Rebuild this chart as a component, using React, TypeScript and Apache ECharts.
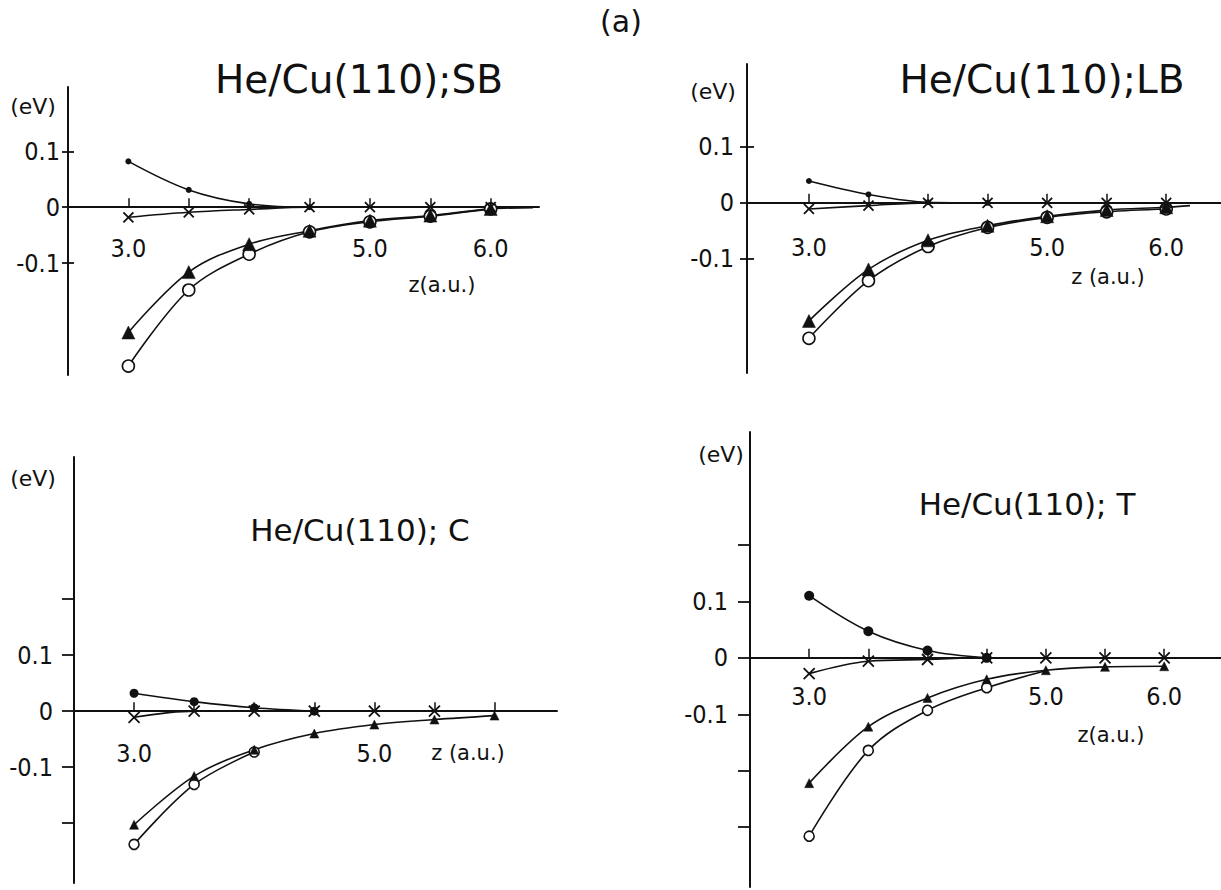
import React, { useEffect, useRef } from "react";
import * as echarts from "echarts";

// Atom-surface distance z (a.u.) at which the energies were computed
const zPoints = [3.0, 3.5, 4.0, 4.5, 5.0, 5.5, 6.0];

// Energy contributions (eV), one list per curve and panel
// He/Cu(110); SB
const sbDot = [0.082, 0.031, 0.006, 0.0];
const sbCross = [-0.018, -0.009, -0.004, 0.0, 0.0, 0.0, 0.0];
const sbTriangle = [-0.224, -0.116, -0.066, -0.042, -0.024, -0.015, -0.003];
const sbCircle = [-0.284, -0.148, -0.084, -0.044, -0.026, -0.016, -0.003];
const sbCurveEnd: [number, number] = [6.35, -0.001];

// He/Cu(110); LB
const lbDot = [0.039, 0.015, 0.001, 0.0];
const lbCross = [-0.011, -0.005, 0.0, 0.0, 0.0, 0.0, 0.0];
const lbTriangle = [-0.211, -0.119, -0.067, -0.041, -0.024, -0.013, -0.008];
const lbCircle = [-0.242, -0.139, -0.078, -0.044, -0.026, -0.016, -0.011];
const lbCurveEnd: [number, number] = [6.2, -0.005];

// He/Cu(110); C
const cDot = [0.032, 0.017, 0.006, 0.0];
const cCross = [-0.011, 0.0, 0.0, 0.0, 0.0, 0.0];
const cTriangle = [-0.203, -0.116, -0.069, -0.04, -0.024, -0.015, -0.008];
const cCircle = [-0.238, -0.131, -0.073];

// He/Cu(110); T
const tDot = [0.11, 0.047, 0.013, 0.0];
const tCross = [-0.028, -0.006, -0.003, 0.0, 0.0, 0.0, 0.0];
const tTriangle = [-0.222, -0.122, -0.071, -0.038, -0.022, -0.016, -0.015];
const tCircle = [-0.316, -0.164, -0.093, -0.053];
const tCircleEnd: [number, number] = [5.0, -0.023];

// Tick positions and labels
const xTickValues = [3.0, 3.5, 4.0, 4.5, 5.0, 5.5, 6.0];
const xLabelValues = [3.0, 5.0, 6.0];
const xLabelValuesC = [3.0, 5.0];
const yLabelValues = [-0.1, 0, 0.1];
const yTickValuesTop = [-0.1, 0, 0.1];
const yTickValuesC = [-0.2, -0.1, 0, 0.1, 0.2];
const yTickValuesT = [-0.3, -0.2, -0.1, 0, 0.1, 0.2];

const titles = ["He/Cu(110);SB", "He/Cu(110);LB", "He/Cu(110); C", "He/Cu(110); T"];
const figureLabel = "(a)";
const yUnit = "(eV)";
const xNames = ["z(a.u.)", "z (a.u.)", "z (a.u.)", "z(a.u.)"];

const INK = "#111";
const LABEL_FONT = "'Liberation Sans Narrow', 'DejaVu Sans Condensed', 'Liberation Sans', sans-serif";
const TITLE_FONT = "'DejaVu Sans', sans-serif";

const crossPath = "path://M0,0L10,10M0,10L10,0";

function pairs(values: number[]): [number, number][] {
  return values.map((v, i) => [zPoints[i], v]);
}

type PanelStyle = {
  dotSize: number;
  circleSize: number;
  triSize: number;
  crossSize: number;
};

function panelSeries(
  idx: number,
  dot: number[],
  cross: number[],
  tri: number[],
  circ: number[],
  st: PanelStyle,
  triEnd?: [number, number],
  circEnd?: [number, number]
) {
  const base = {
    type: "line",
    xAxisIndex: idx,
    yAxisIndex: idx,
    smooth: 0.35,
    lineStyle: { color: INK, width: 1.6 },
    silent: true,
    z: 3,
  };
  const triData: any[] = pairs(tri);
  if (triEnd) triData.push({ value: triEnd, symbol: "none" });
  const circData: any[] = pairs(circ);
  if (circEnd) circData.push({ value: circEnd, symbol: "none" });
  return [
    {
      ...base,
      name: "open circle " + idx,
      data: circData,
      symbol: "circle",
      symbolSize: st.circleSize,
      itemStyle: { color: "#fff", borderColor: INK, borderWidth: 1.6 },
    },
    {
      ...base,
      name: "triangle " + idx,
      data: triData,
      symbol: "triangle",
      symbolSize: st.triSize,
      itemStyle: { color: INK, borderColor: INK, borderWidth: 0.5 },
    },
    {
      ...base,
      name: "cross " + idx,
      data: pairs(cross),
      symbol: crossPath,
      symbolSize: st.crossSize,
      itemStyle: { color: "none", borderColor: INK, borderWidth: 1.8 },
    },
    {
      ...base,
      name: "dot " + idx,
      data: pairs(dot),
      symbol: "circle",
      symbolSize: st.dotSize,
      itemStyle: { color: INK, borderColor: INK, borderWidth: 0 },
    },
  ];
}

function buildOption() {
  const grids = [
    { left: 68, top: 87, width: 471, height: 288 },
    { left: 747, top: 64, width: 474, height: 309 },
    { left: 74, top: 457, width: 483, height: 426 },
    { left: 750, top: 432, width: 471, height: 455 },
  ];
  const xRanges = [
    [2.5, 6.4],
    [2.48, 6.46],
    [2.5, 6.52],
    [2.5, 6.48],
  ];
  const yRanges = [
    [-0.3, 0.215],
    [-0.304, 0.248],
    [-0.307, 0.454],
    [-0.406, 0.4],
  ];
  const yTicks = [yTickValuesTop, yTickValuesTop, yTickValuesC, yTickValuesT];
  const xLabels = [xLabelValues, xLabelValues, xLabelValuesC, xLabelValues];
  const xLabelMargins = [29, 32, 30, 26];
  const yLabelMargins = [8, 13, 21, 22];
  const yTickLen = [6, 7, 12, 12];

  // Label strips: same horizontal extent as each panel, ending at the zero line,
  // so the z tick labels hang just below the zero line.
  const labelGrids = grids.map((g, i) => {
    const [lo, hi] = yRanges[i];
    return { left: g.left, width: g.width, top: g.top, height: (g.height * hi) / (hi - lo) };
  });

  const xAxis: any[] = grids.map((_, i) => ({
    type: "value",
    gridIndex: i,
    min: xRanges[i][0],
    max: xRanges[i][1],
    axisLine: { onZero: true, lineStyle: { color: INK, width: 2 } },
    axisTick: {
      show: true,
      inside: true,
      length: 9,
      customValues: xTickValues,
      lineStyle: { color: INK, width: 1.5 },
    },
    axisLabel: { show: false },
    splitLine: { show: false },
  }));
  labelGrids.forEach((_, i) => {
    xAxis.push({
      type: "value",
      gridIndex: 4 + i,
      position: "bottom",
      min: xRanges[i][0],
      max: xRanges[i][1],
      axisLine: { show: false },
      axisTick: { show: false },
      axisLabel: {
        customValues: xLabels[i],
        margin: xLabelMargins[i],
        color: INK,
        fontSize: 25,
        fontFamily: LABEL_FONT,
        formatter: (v: number) => v.toFixed(1),
      },
      splitLine: { show: false },
    });
  });

  const yAxis: any[] = grids.map((_, i) => ({
    type: "value",
    gridIndex: i,
    position: "left",
    min: yRanges[i][0],
    max: yRanges[i][1],
    axisLine: { show: true, onZero: false, lineStyle: { color: INK, width: 2 } },
    axisTick: {
      show: true,
      inside: false,
      length: yTickLen[i],
      customValues: yTicks[i],
      lineStyle: { color: INK, width: 1.8 },
    },
    axisLabel: {
      customValues: yLabelValues,
      margin: yLabelMargins[i],
      color: INK,
      fontSize: 25,
      fontFamily: LABEL_FONT,
      formatter: (v: number) => (Math.abs(v) < 1e-9 ? "0" : v.toFixed(1)),
    },
    splitLine: { show: false },
  }));
  labelGrids.forEach((_, i) => {
    yAxis.push({
      type: "value",
      gridIndex: 4 + i,
      min: 0,
      max: 1,
      show: false,
    });
  });
  // Upper two panels: ticks cross the value axis
  [0, 1].forEach((i) => {
    yAxis.push({
      type: "value",
      gridIndex: i,
      position: "left",
      min: yRanges[i][0],
      max: yRanges[i][1],
      axisLine: { show: false, onZero: false },
      axisTick: {
        show: true,
        inside: true,
        length: yTickLen[i],
        customValues: yTicks[i],
        lineStyle: { color: INK, width: 1.8 },
      },
      axisLabel: { show: false },
      splitLine: { show: false },
    });
  });

  const small: PanelStyle = { dotSize: 6, circleSize: 12, triSize: 13, crossSize: 10 };
  const large: PanelStyle = { dotSize: 10, circleSize: 10, triSize: 9, crossSize: 11 };

  const series = [
    ...panelSeries(0, sbDot, sbCross, sbTriangle, sbCircle, small, sbCurveEnd),
    ...panelSeries(1, lbDot, lbCross, lbTriangle, lbCircle, small, lbCurveEnd),
    ...panelSeries(2, cDot, cCross, cTriangle, cCircle, { ...large, dotSize: 9 }),
    ...panelSeries(3, tDot, tCross, tTriangle, tCircle, large, undefined, tCircleEnd),
  ];

  const text = (t: string, x: number, y: number, size: number, family = TITLE_FONT) => ({
    type: "text",
    x,
    y,
    silent: true,
    style: {
      text: t,
      fill: INK,
      fontSize: size,
      fontFamily: family,
      align: "center",
      verticalAlign: "middle",
      textAlign: "center",
      textVerticalAlign: "middle",
    },
  });

  const graphic = [
    text(figureLabel, 621, 21, 30),
    text(titles[0], 359, 79, 39),
    text(titles[1], 1042, 79, 39),
    text(titles[2], 360, 530, 31),
    text(titles[3], 1027, 504, 31),
    text(yUnit, 33, 106, 22),
    text(yUnit, 713, 91, 22),
    text(yUnit, 33, 478, 22),
    text(yUnit, 721, 454, 22),
    text(xNames[0], 442, 285, 21),
    text(xNames[1], 1108, 277, 21),
    text(xNames[2], 468, 753, 21),
    text(xNames[3], 1111, 735, 21),
  ];

  return {
    animation: false,
    backgroundColor: "#fff",
    grid: [...grids, ...labelGrids].map((g) => ({ ...g, containLabel: false })),
    xAxis,
    yAxis,
    series,
    graphic,
  };
}

export default function App() {
  const ref = useRef<HTMLDivElement>(null);
  useEffect(() => {
    if (!ref.current) return;
    const chart = echarts.init(ref.current, undefined, { renderer: "svg" });
    chart.setOption(buildOption() as any);
    return () => chart.dispose();
  }, []);
  return (
    <div
      ref={ref}
      style={{ position: "absolute", left: 0, top: 0, width: 1221, height: 890, background: "#fff" }}
    />
  );
}
